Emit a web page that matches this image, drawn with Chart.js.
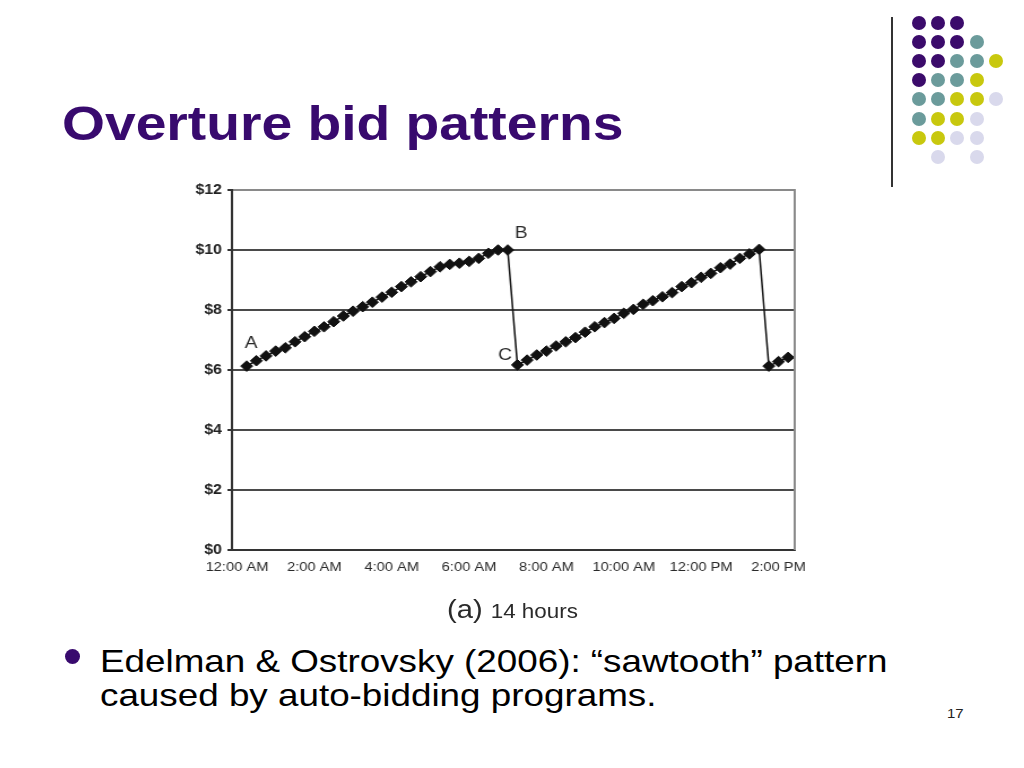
<!DOCTYPE html>
<html>
<head>
<meta charset="utf-8">
<title>Overture bid patterns</title>
<script src="https://cdn.jsdelivr.net/npm/chart.js@4.4.1/dist/chart.umd.min.js"></script>
<style>
    html, body {
        margin: 0;
        padding: 0;
        background: #fff;
        width: 1024px;
        height: 768px;
        overflow: hidden;
        font-family: "Liberation Sans", Arial, sans-serif;
    }
    .abs { position: absolute; white-space: nowrap; transform-origin: 0 0; }
    #title {
        left: 62px; top: 100px;
        font-size: 48px; line-height: 48px; font-weight: bold;
        color: #380a6e;
        transform: scaleX(1.15);
    }
    #chart-wrap {
        left: 180px; top: 175px;
        width: 570px; height: 420px;
        transform: scaleX(1.13);
    }
    #caption {
        left: 447px; top: 596px;
        font-size: 26px; line-height: 26px; color: #2a2a2a;
        transform: scaleX(1.12);
    }
    #caption .small { font-size: 20px; }
    #bullet-dot {
        position: absolute; left: 65px; top: 649px;
        width: 15px; height: 15px; border-radius: 50%;
        background: #380a6e;
    }
    #bullet {
        left: 100px; top: 644px;
        font-size: 32px; line-height: 34px; color: #000;
        transform: scaleX(1.15);
    }
    #page-num {
        left: 947px; top: 707px;
        font-size: 13px; line-height: 13px; color: #222;
        transform: scaleX(1.15);
    }
    #deco-line {
        position: absolute; left: 891px; top: 17px;
        width: 1.5px; height: 170px; background: #333;
    }
    .dot { position: absolute; width: 14px; height: 14px; border-radius: 50%; }
</style>
</head>
<body>
<div id="title" class="abs">Overture bid patterns</div>
<div id="deco-line"></div>
<div id="deco"></div>

<div id="chart-wrap" class="abs">
    <canvas id="bidChart" width="570" height="420"></canvas>
</div>
<div id="caption" class="abs">(a) <span class="small">14 hours</span></div>

<div id="bullet-dot"></div>
<div id="bullet" class="abs">Edelman &amp; Ostrovsky (2006): “sawtooth” pattern<br>caused by auto-bidding programs.</div>
<div id="page-num" class="abs">17</div>

<script>
// Hours since midnight, one bid every 15 minutes
const hours = [
    0.25, 0.5, 0.75, 1, 1.25, 1.5, 1.75, 2, 2.25, 2.5, 2.75, 3, 3.25, 3.5,
    3.75, 4, 4.25, 4.5, 4.75, 5, 5.25, 5.5, 5.75, 6, 6.25, 6.5, 6.75, 7,
    7.25, 7.5, 7.75, 8, 8.25, 8.5, 8.75, 9, 9.25, 9.5, 9.75, 10, 10.25,
    10.5, 10.75, 11, 11.25, 11.5, 11.75, 12, 12.25, 12.5, 12.75, 13, 13.25, 13.5,
    13.75, 14, 14.25
];
// Bid in dollars
const bids = [
    6.13, 6.31, 6.47, 6.63, 6.74, 6.94, 7.11, 7.29, 7.44, 7.61, 7.80, 7.96, 8.11, 8.26,
    8.43, 8.59, 8.78, 8.94, 9.11, 9.28, 9.44, 9.52, 9.56, 9.62, 9.72, 9.89, 10.0, 10.0,
    6.17, 6.33, 6.50, 6.63, 6.80, 6.94, 7.08, 7.26, 7.44, 7.58, 7.72, 7.89, 8.02,
    8.19, 8.31, 8.44, 8.58, 8.78, 8.91, 9.09, 9.22, 9.41, 9.53, 9.72, 9.87, 10.02,
    6.13, 6.28, 6.42
];
const xTicks = [0, 2, 4, 6, 8, 10, 12, 14];
const xTickLabels = ['12:00 AM', '2:00 AM', '4:00 AM', '6:00 AM', '8:00 AM', '10:00 AM', '12:00 PM', '2:00 PM'];
const yTicks = [0, 2, 4, 6, 8, 10, 12];
const yTickLabels = ['$0', '$2', '$4', '$6', '$8', '$10', '$12'];
const markLabels = ['A', 'B', 'C'];
const markIndex = [0, 27, 28];

// decoration dots (top right corner)
const decoRows = ['PPP', 'PPPT', 'PPTTY', 'PTTY', 'TTYYL', 'TYYL', 'YYLL', '.L.L'];
const decoColors = { P: '#3b0b6b', T: '#6b9b9b', Y: '#c8c80e', L: '#d9d9ec' };
const deco = document.getElementById('deco');
decoRows.forEach((row, r) => {
    row.split('').forEach((c, i) => {
        if (!decoColors[c]) return;
        const d = document.createElement('div');
        d.className = 'dot';
        d.style.left = (912 + i * 19.2) + 'px';
        d.style.top = (16 + r * 19.1) + 'px';
        d.style.background = decoColors[c];
        deco.appendChild(d);
    });
});

// right frame line and the A / B / C marks
const framePlugin = {
    id: 'frameAndMarks',
    afterDatasetsDraw(chart) {
        const { ctx, chartArea } = chart;
        ctx.save();
        ctx.strokeStyle = '#8a8a8a';
        ctx.lineWidth = 2;
        ctx.beginPath();
        ctx.moveTo(chartArea.right, chartArea.top - 1);
        ctx.lineTo(chartArea.right, chartArea.bottom);
        ctx.stroke();

        const meta = chart.getDatasetMeta(0);
        const offsets = [[4, -23], [12, -17], [-11, -10]];
        ctx.fillStyle = '#2a2a2a';
        ctx.font = '17px "Liberation Sans", Arial, sans-serif';
        ctx.textAlign = 'center';
        ctx.textBaseline = 'middle';
        markLabels.forEach((t, i) => {
            const p = meta.data[markIndex[i]];
            ctx.fillText(t, p.x + offsets[i][0], p.y + offsets[i][1]);
        });
        ctx.restore();
    }
};

new Chart(document.getElementById('bidChart'), {
    type: 'line',
    data: {
        datasets: [{
            data: hours.map((h, i) => ({ x: h, y: bids[i] })),
            borderColor: '#111',
            borderWidth: 1.5,
            backgroundColor: '#111',
            pointStyle: 'rectRot',
            pointRadius: 5.3,
            pointBorderWidth: 1,
            pointBorderColor: '#111',
            pointBackgroundColor: '#111',
            tension: 0
        }]
    },
    options: {
        responsive: false,
        animation: false,
        layout: { padding: { left: 0, right: 26, top: 15, bottom: 0 } },
        plugins: {
            legend: { display: false },
            tooltip: { enabled: false }
        },
        scales: {
            x: {
                type: 'linear',
                min: -0.13,
                max: 14.42,
                afterBuildTicks: (scale) => { scale.ticks = xTicks.map(v => ({ value: v })); },
                afterFit: (scale) => { scale.height = 45; },
                grid: { display: false, drawTicks: false },
                border: { display: true, color: '#333', width: 2 },
                ticks: {
                    autoSkip: false,
                    maxRotation: 0,
                    padding: 10,
                    color: '#2a2a2a',
                    font: { family: '"Liberation Sans", Arial, sans-serif', size: 13 },
                    callback: (v) => xTickLabels[xTicks.indexOf(v)]
                }
            },
            y: {
                min: 0,
                max: 12,
                afterBuildTicks: (scale) => { scale.ticks = yTicks.map(v => ({ value: v })); },
                afterFit: (scale) => { scale.width = 46; },
                grid: {
                    color: (ctx) => ctx.tick && ctx.tick.value === 12 ? '#8a8a8a' : '#4a4a4a',
                    tickColor: '#333',
                    lineWidth: 2,
                    tickLength: 4
                },
                border: { display: true, color: '#333', width: 2 },
                ticks: {
                    padding: 5,
                    color: '#222',
                    font: { family: '"Liberation Sans", Arial, sans-serif', size: 14, weight: 'bold' },
                    callback: (v) => yTickLabels[yTicks.indexOf(v)]
                }
            }
        }
    },
    plugins: [framePlugin]
});
</script>
</body>
</html>
